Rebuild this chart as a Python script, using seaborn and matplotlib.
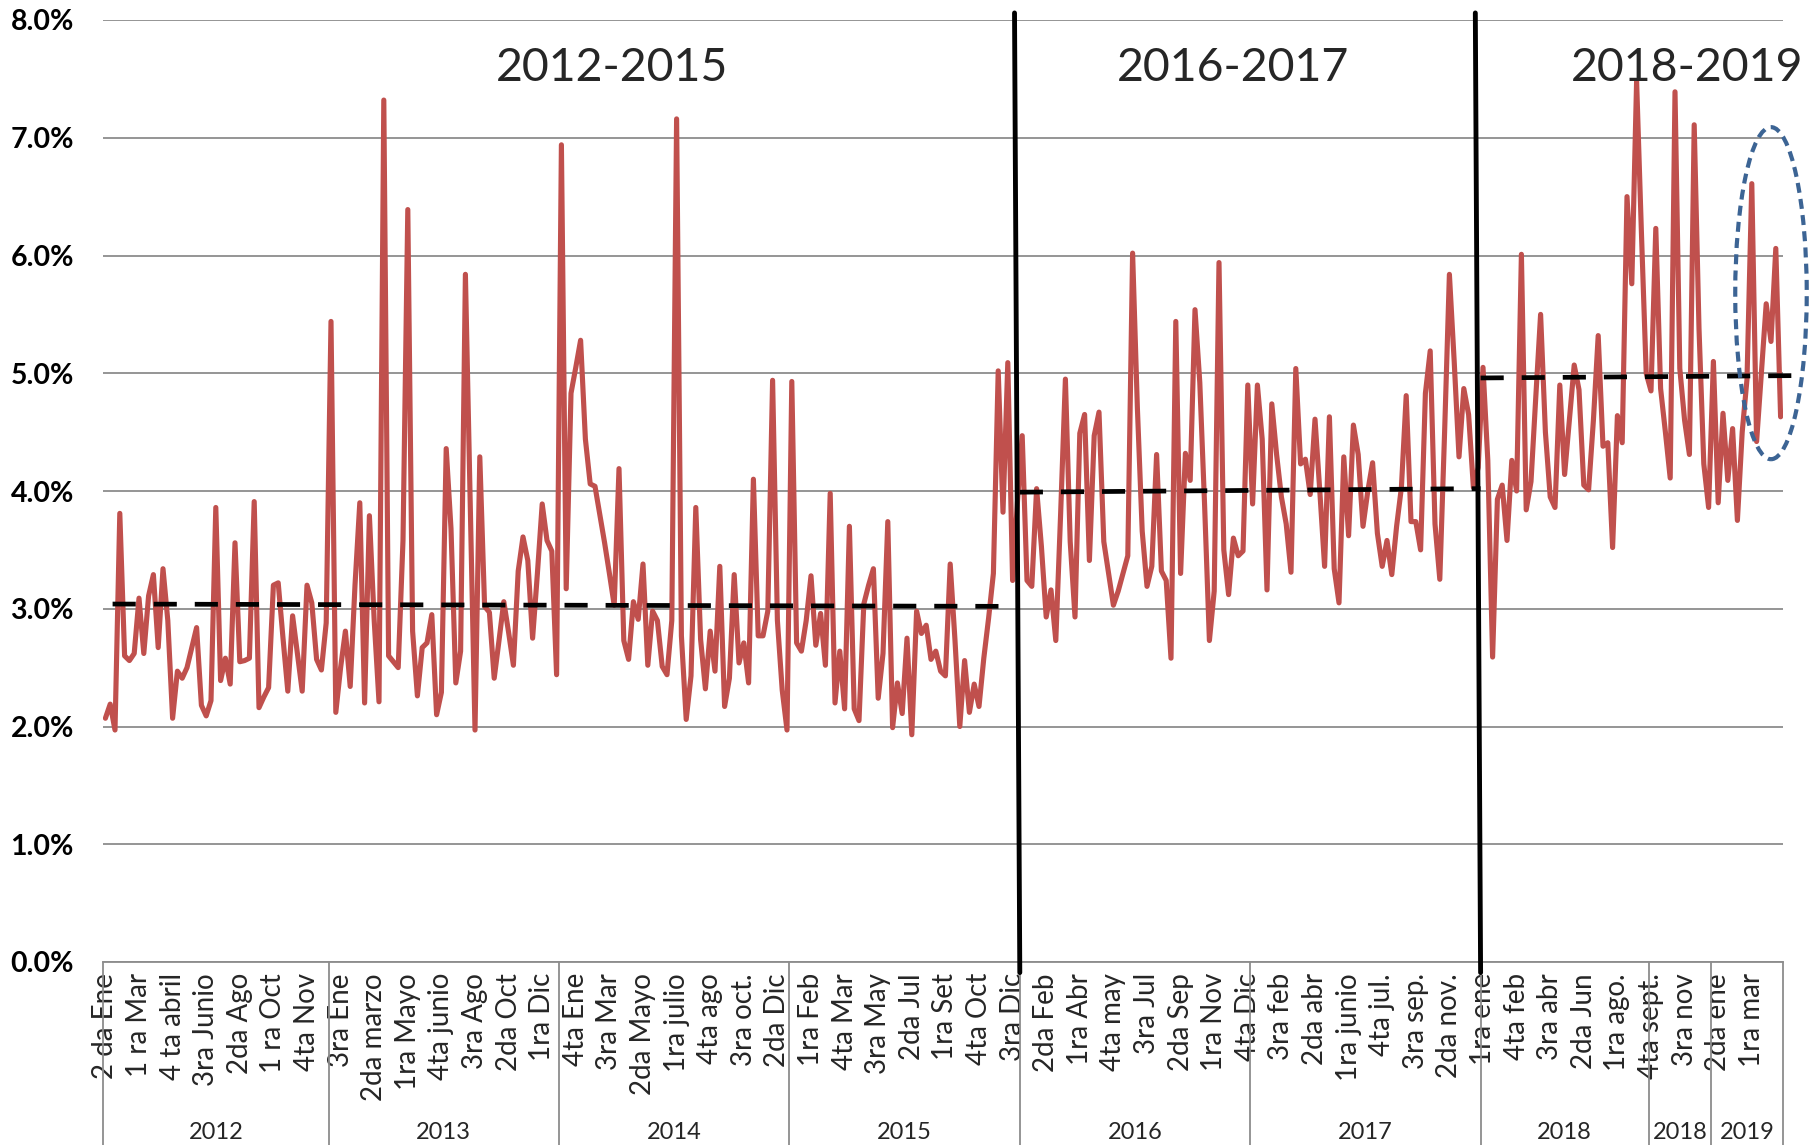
import numpy as np
import pandas as pd
import matplotlib
matplotlib.use("Agg")
import matplotlib.pyplot as plt
import matplotlib.transforms as mtransforms
from matplotlib.patches import Ellipse
import seaborn as sns

# weekly rate (%), 4 weeks per month
rate_2012 = [2.07, 2.19, 1.97, 3.81, 2.60, 2.56, 2.62, 3.09, 2.62, 3.11, 3.29, 2.67,
             3.34, 2.90, 2.07, 2.47, 2.41, 2.50, 2.67, 2.84, 2.18, 2.09, 2.22, 3.86,
             2.39, 2.58, 2.36, 3.56, 2.55, 2.56, 2.58, 3.91, 2.16, 2.25, 2.33, 3.20,
             3.22, 2.75, 2.30, 2.94, 2.62, 2.30, 3.20, 3.05, 2.57, 2.48, 2.88]
rate_2013 = [5.44, 2.12, 2.50, 2.81, 2.34, 3.20, 3.90, 2.20, 3.79, 2.90, 2.21, 7.32,
             2.60, 2.55, 2.50, 3.58, 6.39, 2.81, 2.26, 2.67, 2.71, 2.95, 2.10, 2.29,
             4.36, 3.68, 2.37, 2.64, 5.84, 3.90, 1.97, 4.29, 3.02, 2.97, 2.41, 2.73,
             3.06, 2.80, 2.52, 3.32, 3.61, 3.41, 2.75, 3.30, 3.89, 3.58, 3.49, 2.44]
rate_2014 = [6.94, 3.17, 4.83, 5.05, 5.28, 4.44, 4.06, 4.04, 3.80, 3.56, 3.30, 3.03,
             4.19, 2.73, 2.57, 3.06, 2.91, 3.38, 2.52, 2.98, 2.90, 2.51, 2.44, 2.90,
             7.16, 2.77, 2.06, 2.43, 3.86, 2.74, 2.32, 2.81, 2.47, 3.36, 2.17, 2.41,
             3.29, 2.54, 2.71, 2.37, 4.10, 2.77, 2.77, 2.98, 4.94, 2.90, 2.31, 1.97]
rate_2015 = [4.93, 2.71, 2.64, 2.90, 3.28, 2.69, 2.96, 2.52, 3.98, 2.20, 2.64, 2.15,
             3.70, 2.15, 2.05, 3.04, 3.20, 3.34, 2.24, 2.62, 3.74, 1.99, 2.37, 2.11,
             2.75, 1.93, 2.98, 2.79, 2.86, 2.57, 2.64, 2.47, 2.43, 3.38, 2.73, 2.00,
             2.56, 2.12, 2.36, 2.17, 2.58, 2.92, 3.30, 5.02, 3.82, 5.09, 3.24, 3.90]
rate_2016 = [4.47, 3.24, 3.19, 4.02, 3.53, 2.93, 3.16, 2.73, 3.80, 4.95, 3.57, 2.93,
             4.49, 4.65, 3.41, 4.47, 4.67, 3.57, 3.30, 3.03, 3.15, 3.30, 3.45, 6.02,
             4.70, 3.66, 3.19, 3.36, 4.31, 3.32, 3.24, 2.58, 5.44, 3.30, 4.32, 4.09,
             5.54, 4.92, 3.88, 2.73, 3.15, 5.94, 3.50, 3.12, 3.60, 3.45, 3.49, 4.90]
rate_2017 = [3.89, 4.90, 4.44, 3.16, 4.74, 4.31, 3.95, 3.72, 3.31, 5.04, 4.23, 4.27,
             3.97, 4.61, 4.00, 3.36, 4.63, 3.34, 3.05, 4.29, 3.62, 4.56, 4.31, 3.70,
             4.00, 4.24, 3.64, 3.36, 3.58, 3.29, 3.70, 4.03, 4.81, 3.74, 3.74, 3.50,
             4.83, 5.19, 3.72, 3.25, 4.50, 5.84, 5.10, 4.29, 4.87, 4.65, 4.03, 4.20]
rate_2018a = [5.05, 4.26, 2.59, 3.93, 4.05, 3.58, 4.26, 4.00, 6.01, 3.84, 4.08, 4.80,
              5.50, 4.50, 3.95, 3.86, 4.90, 4.14, 4.60, 5.07, 4.86, 4.05, 4.01, 4.60,
              5.32, 4.38, 4.41, 3.52, 4.64, 4.41, 6.50, 5.76, 7.48, 6.20, 5.00]
rate_2018b = [4.85, 6.23, 4.87, 4.50, 4.11, 7.39, 5.04, 4.60, 4.31, 7.11, 5.38, 4.23, 3.86]
rate_2019 = [5.10, 3.90, 4.66, 4.09, 4.53, 3.75, 4.50, 4.95, 6.61, 4.42, 5.00, 5.59,
             5.27, 6.06, 4.63]

year_labels = ["2012", "2013", "2014", "2015", "2016", "2017", "2018", "2018", "2019"]

# one label every 7 weeks
week_labels = [
    "2 da Ene", "1 ra Mar", "4 ta abril", "3ra Junio", "2da Ago", "1 ra Oct", "4ta Nov",
    "3ra Ene", "2da marzo", "1ra Mayo", "4ta junio", "3ra Ago", "2da Oct", "1ra Dic",
    "4ta Ene", "3ra Mar", "2da Mayo", "1ra julio", "4ta ago", "3ra oct.", "2da Dic",
    "1ra Feb", "4ta Mar", "3ra May", "2da Jul", "1ra Set", "4ta Oct", "3ra Dic",
    "2da Feb", "1ra Abr", "4ta may", "3ra Jul", "2da Sep", "1ra Nov", "4ta Dic",
    "3ra feb", "2da abr", "1ra junio", "4ta jul.", "3ra sep.", "2da nov.",
    "1ra ene", "4ta feb", "3ra abr", "2da Jun", "1ra ago.",
    "4ta sept.", "3ra nov",
    "2da ene", "1ra mar",
]

period_names = ["2012-2015", "2016-2017", "2018-2019"]
period_groups = [4, 2, 3]               # year groups in each period
period_mean_start = [3.04, 3.99, 4.96]  # dashed average line, left end
period_mean_end = [3.02, 4.02, 4.98]    # dashed average line, right end

# build the table
groups = [rate_2012, rate_2013, rate_2014, rate_2015, rate_2016, rate_2017,
          rate_2018a, rate_2018b, rate_2019]
rates = sum(groups, [])
df = pd.DataFrame({"week": np.arange(len(rates)), "rate": rates})

sns.set_style("white")
plt.rcParams["font.family"] = ["Lato", "DejaVu Sans"]

W, H = 1820, 1145
fig = plt.figure(figsize=(W / 100, H / 100), dpi=100)
ax = fig.add_axes([103 / W, 1 - 962 / H, 1680 / W, 942 / H])

grey = "#8C8C8C"
sns.lineplot(data=df, x="week", y="rate", color="#C0504D", linewidth=3.7,
             solid_joinstyle="round", solid_capstyle="round", ax=ax, zorder=3)

ax.set_xlim(-0.5, len(rates) - 0.5)
ax.set_ylim(0, 8)
ax.set_yticks(range(0, 9))
ax.set_yticklabels([f"{v:.1f}%" for v in range(0, 9)], fontsize=20.5, fontweight="bold")
ax.yaxis.grid(True, color=grey, lw=1.3)
ax.xaxis.grid(False)
ax.set_axisbelow(True)
for s in ["left", "top", "right"]:
    ax.spines[s].set_visible(False)
ax.spines["bottom"].set_color(grey)
ax.spines["bottom"].set_linewidth(1.3)
ax.tick_params(axis="y", length=0, pad=21, colors="black")
ax.set_xlabel("")
ax.set_ylabel("")

tick_pos = np.arange(0, len(rates), 7)[:len(week_labels)]
ax.set_xticks(tick_pos)
ax.set_xticklabels(week_labels, rotation=90, fontsize=20, ha="center", va="top")
ax.tick_params(axis="x", length=0, pad=8)

# year groups under the axis
sizes = [len(g) for g in groups]
bounds = np.concatenate([[0], np.cumsum(sizes)]) - 0.5
trans = mtransforms.blended_transform_factory(ax.transData, fig.transFigure)
axis_y = 1 - 962 / H
for b in bounds:
    ax.plot([b, b], [0, axis_y], transform=trans, color=grey, lw=1.3, clip_on=False)
for lab, c in zip(year_labels, (bounds[:-1] + bounds[1:]) / 2):
    ax.text(c, 0.0056, lab, transform=trans, ha="center", va="baseline", fontsize=17)

# periods: dashed means, black dividers, titles
pb = bounds[np.cumsum([0] + period_groups)]
mean_x0 = [pb[0] + 2.0, pb[1], pb[2]]
mean_x1 = [pb[1], pb[2], pb[3] + 2.7]
for x0, x1, m0, m1 in zip(mean_x0, mean_x1, period_mean_start, period_mean_end):
    ax.plot([x0, x1], [m0, m1], color="black", lw=3.4, linestyle=(0, (4.9, 3.8)),
            clip_on=False, zorder=4)
for b in pb[1:-1]:
    ax.plot([b - 1.1, b], [8.06, -0.09], color="black", lw=3.5, clip_on=False, zorder=5)

title_x = [105.5, 235.0, 329.5]
for name, x in zip(period_names, title_x):
    ax.text(x, 7.48, name, fontsize=33.5, ha="center", va="baseline", zorder=6)

# highlight of the last weeks
ax.add_patch(Ellipse((347.0, 5.68), 14.9, 2.82, fill=False, edgecolor="#3C6494",
                     lw=3, linestyle=(0, (2.4, 1.5)), clip_on=False, zorder=6))

fig.savefig("out.png", dpi=100)
